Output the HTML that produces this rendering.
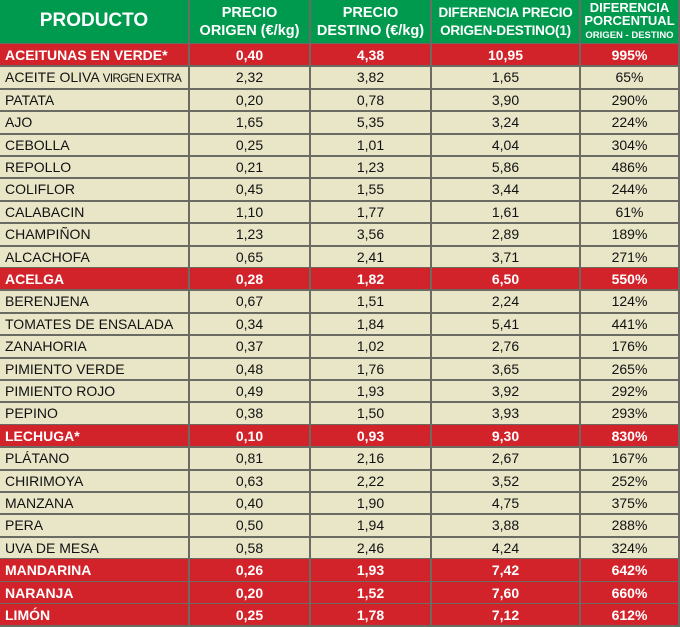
<!DOCTYPE html>
<html><head><meta charset="utf-8"><style>
body{margin:0;width:680px;height:627px;overflow:hidden;background:#e9e6c8;font-family:"Liberation Sans",sans-serif}
.c{position:absolute;box-sizing:border-box;display:flex;align-items:center;justify-content:center;font-size:14px;color:#111;border-right:2px solid #6b6b63;border-bottom:2px solid #6b6b63;white-space:nowrap}
.l{justify-content:flex-start;padding-left:5px}
.h{background:#009a4e;color:#fff;font-weight:bold;text-align:center;line-height:18px;font-size:14.5px}
.r{background:#d2232a;color:#fff;font-weight:bold}
</style></head><body>
<script>
const cols=[0,190,311,432,581,680];
const rows=[
["ACEITUNAS EN VERDE*","0,40","4,38","10,95","995%",1],
["ACEITE OLIVA <span style='font-size:11.5px;letter-spacing:-0.6px'>VIRGEN EXTRA</span>","2,32","3,82","1,65","65%"],
["PATATA","0,20","0,78","3,90","290%"],
["AJO","1,65","5,35","3,24","224%"],
["CEBOLLA","0,25","1,01","4,04","304%"],
["REPOLLO","0,21","1,23","5,86","486%"],
["COLIFLOR","0,45","1,55","3,44","244%"],
["CALABACIN","1,10","1,77","1,61","61%"],
["CHAMPIÑON","1,23","3,56","2,89","189%"],
["ALCACHOFA","0,65","2,41","3,71","271%"],
["ACELGA","0,28","1,82","6,50","550%",1],
["BERENJENA","0,67","1,51","2,24","124%"],
["TOMATES DE ENSALADA","0,34","1,84","5,41","441%"],
["ZANAHORIA","0,37","1,02","2,76","176%"],
["PIMIENTO VERDE","0,48","1,76","3,65","265%"],
["PIMIENTO ROJO","0,49","1,93","3,92","292%"],
["PEPINO","0,38","1,50","3,93","293%"],
["LECHUGA*","0,10","0,93","9,30","830%",1],
["PLÁTANO","0,81","2,16","2,67","167%"],
["CHIRIMOYA","0,63","2,22","3,52","252%"],
["MANZANA","0,40","1,90","4,75","375%"],
["PERA","0,50","1,94","3,88","288%"],
["UVA DE MESA","0,58","2,46","4,24","324%"],
["MANDARINA","0,26","1,93","7,42","642%",1],
["NARANJA","0,20","1,52","7,60","660%",1],
["LIMÓN","0,25","1,78","7,12","612%",1]];
let h='';
const hd=["<span style='font-size:19px'>PRODUCTO</span>","PRECIO<br>ORIGEN (€/kg)","PRECIO<br>DESTINO (€/kg)","<span style='font-size:13.5px;letter-spacing:-0.2px'>DIFERENCIA PRECIO<br>ORIGEN-DESTINO(1)</span>","<span style='line-height:13px;font-size:13px;display:block'>DIFERENCIA<br>PORCENTUAL<br><span style='font-size:9.5px'>ORIGEN - DESTINO</span></span>"];
for(let j=0;j<5;j++)h+=`<div class="c h" style="left:${cols[j]}px;top:0;width:${cols[j+1]-cols[j]}px;height:45px"><span>${hd[j]}</span></div>`;
const y0=44,rh=22.4;
rows.forEach((r,i)=>{const t=Math.round(y0+rh*i),b=Math.round(y0+rh*(i+1))+1;
for(let j=0;j<5;j++)h+=`<div class="c${j==0?' l':''}${r[5]?' r':''}" style="left:${cols[j]}px;top:${t}px;width:${cols[j+1]-cols[j]}px;height:${b-t}px"><span>${r[j]}</span></div>`;});
document.write(h);
</script>
</body></html>
